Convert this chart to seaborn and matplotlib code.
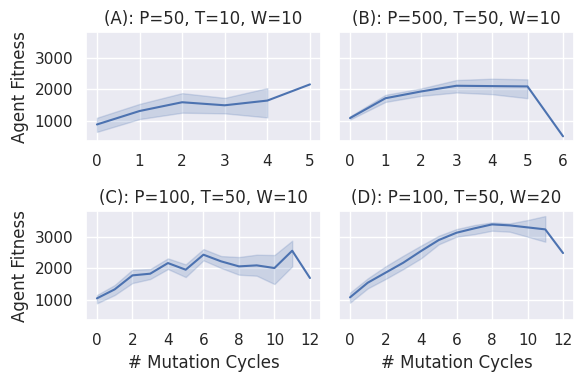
import matplotlib
matplotlib.use("Agg")
import matplotlib.pyplot as plt
import seaborn as sns
import numpy as np
import pandas as pd

# mean fitness per mutation cycle, with the CI band (nan = no band)
a_x = [0, 1, 2, 3, 4, 5]
a_mean = [894, 1319, 1596, 1500, 1649, 2160]
a_low = [660, 1064, 1266, 1245, 1117, np.nan]
a_high = [1106, 1543, 1883, 1734, 2043, np.nan]

b_x = [0, 1, 2, 3, 4, 5, 6]
b_mean = [1096, 1723, 1936, 2117, 2106, 2096, 520]
b_low = [1050, 1606, 1798, 1904, 1851, 1723, np.nan]
b_high = [1150, 1830, 2032, 2298, 2340, 2319, np.nan]

c_x = list(range(13))
c_mean = [1053, 1337, 1779, 1832, 2168, 1958, 2432, 2221, 2063, 2095, 2011, 2558, 1695]
c_low = [895, 1158, 1537, 1663, 1979, 1726, 2253, 2011, 1800, 1768, 1505, 2063, np.nan]
c_high = [1158, 1474, 1958, 1979, 2316, 2126, 2610, 2389, 2358, 2432, 2421, 2874, np.nan]

d_x = list(range(13))
d_mean = [1084, 1547, 1863, 2179, 2547, 2895, 3126, 3263, 3389, 3358, 3295, 3232, 2484]
d_low = [916, 1368, 1663, 1979, 2316, 2760, 3000, 3080, 3189, 3158, 3000, 2842, np.nan]
d_high = [1232, 1684, 2063, 2400, 2720, 3030, 3242, 3368, 3453, 3420, 3526, 3653, np.nan]

titles = ["(A): P=50, T=10, W=10", "(B): P=500, T=50, W=10",
          "(C): P=100, T=50, W=10", "(D): P=100, T=50, W=20"]

sns.set_theme(style="darkgrid")
fig, axes = plt.subplots(2, 2, figsize=(5.83, 3.83), dpi=100, sharey=True)

panels = [(a_x, a_mean, a_low, a_high), (b_x, b_mean, b_low, b_high),
          (c_x, c_mean, c_low, c_high), (d_x, d_mean, d_low, d_high)]
color = sns.color_palette()[0]

for ax, (x, m, lo, hi), t in zip(axes.flat, panels, titles):
    df = pd.DataFrame({"x": x, "m": m})
    sns.lineplot(data=df, x="x", y="m", ax=ax, color=color)
    ax.fill_between(x, lo, hi, color=color, alpha=0.2, linewidth=1)
    ax.set_title(t)
    ax.set_xlabel("")
    ax.set_ylabel("")

axes[0, 0].set_xticks(range(0, 6))
axes[0, 1].set_xticks(range(0, 7))
axes[1, 0].set_xticks(range(0, 13, 2))
axes[1, 1].set_xticks(range(0, 13, 2))
axes[0, 0].set_yticks([1000, 2000, 3000])
axes[0, 0].set_ylabel("Agent Fitness")
axes[1, 0].set_ylabel("Agent Fitness")
axes[1, 0].set_xlabel("# Mutation Cycles")
axes[1, 1].set_xlabel("# Mutation Cycles")

plt.subplots_adjust(left=0.148, right=0.984, top=0.916, bottom=0.164,
                    wspace=0.08, hspace=0.64)
plt.savefig("out.png")
